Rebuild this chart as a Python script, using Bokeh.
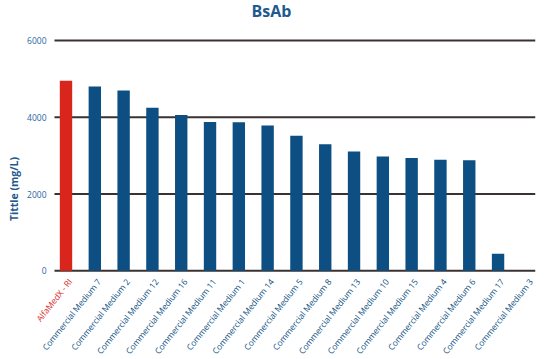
import math
from bokeh.plotting import figure
from bokeh.models import Range1d, ColumnDataSource, FixedTicker
from bokeh.core.properties import value
from bokeh.embed import file_html
from bokeh.resources import INLINE

categories = ["AlfaMedX - RI", "Commercial Medium 7", "Commercial Medium 2",
              "Commercial Medium 12", "Commercial Medium 16", "Commercial Medium 11",
              "Commercial Medium 1", "Commercial Medium 14", "Commercial Medium 5",
              "Commercial Medium 8", "Commercial Medium 13", "Commercial Medium 10",
              "Commercial Medium 15", "Commercial Medium 4", "Commercial Medium 6",
              "Commercial Medium 17", "Commercial Medium 3"]
titer = [4950, 4800, 4700, 4250, 4060, 3880, 3870, 3785, 3520, 3300,
         3110, 2975, 2940, 2895, 2880, 440, 0]
y_ticks = [0, 2000, 4000, 6000]
highlight = "AlfaMedX - RI"

BLUE = "#0d4f82"
RED = "#d8261c"
TXT = "#1f5a8e"
TICK_TXT = "#2a64a0"
GRID = "#3a3232"

n = len(categories)
xs = list(range(n))
x_lo, x_hi = -0.4, n - 0.7          # extent of the plotted category band
colors = [RED if c == highlight else BLUE for c in categories]
src = ColumnDataSource(dict(x=xs, top=titer, color=colors, name=categories,
                            y0=[0] * n))
tick_src = ColumnDataSource(dict(y=y_ticks, x0=[x_lo] * len(y_ticks),
                                 x1=[x_hi] * len(y_ticks),
                                 lab=[str(t) for t in y_ticks]))

p = figure(width=546, height=359, output_backend="svg", toolbar_location=None,
           x_range=Range1d(-1.58, x_hi), y_range=Range1d(-2314, 6575),
           min_border_left=20, min_border_right=11, min_border_top=0,
           min_border_bottom=0, title="BsAb")
p.title.align = "left"
p.title.offset = 231
p.title.standoff = -6
p.title.text_font = "Open Sans"
p.title.text_font_size = "16px"
p.title.text_font_style = "bold"
p.title.text_color = TXT

# horizontal gridlines at the tick values, spanning the category band
p.segment(x0="x0", x1="x1", y0="y", y1="y", source=tick_src,
          line_color=GRID, line_width=2)

p.vbar(x="x", top="top", width=0.43, fill_color="color", line_color=None, source=src)

# y tick labels
p.text(x="x0", y="y", text="lab", source=tick_src, x_offset=-8,
       text_align="right", text_baseline="middle",
       text_font=value("Open Sans"), text_font_size="8.5px", text_color=TICK_TXT)

# rotated category labels
p.text(x="x", y="y0", text="name", source=src, angle=0.9,
       text_align="right", text_baseline="middle", x_offset=4, y_offset=9,
       text_font=value("Open Sans"), text_font_size="8.4px", text_color="color")

p.xaxis.visible = False
p.xgrid.visible = False
p.ygrid.visible = False
p.yaxis.ticker = FixedTicker(ticks=y_ticks)
p.yaxis.major_label_overrides = {t: "" for t in y_ticks}
p.yaxis.axis_line_color = None
p.yaxis.minor_tick_line_color = None
p.yaxis.major_tick_line_color = None
p.yaxis.major_tick_out = 0
p.yaxis.major_tick_in = 0
p.yaxis.major_label_standoff = 0
p.yaxis.axis_label = "Tittle (mg/L)"
p.yaxis.axis_label_text_font = "Open Sans"
p.yaxis.axis_label_text_font_size = "10.5px"
p.yaxis.axis_label_text_font_style = "bold"
p.yaxis.axis_label_text_color = TXT
p.yaxis.axis_label_standoff = 0
p.outline_line_color = None

open("out.html", "w").write(file_html(p, INLINE))
